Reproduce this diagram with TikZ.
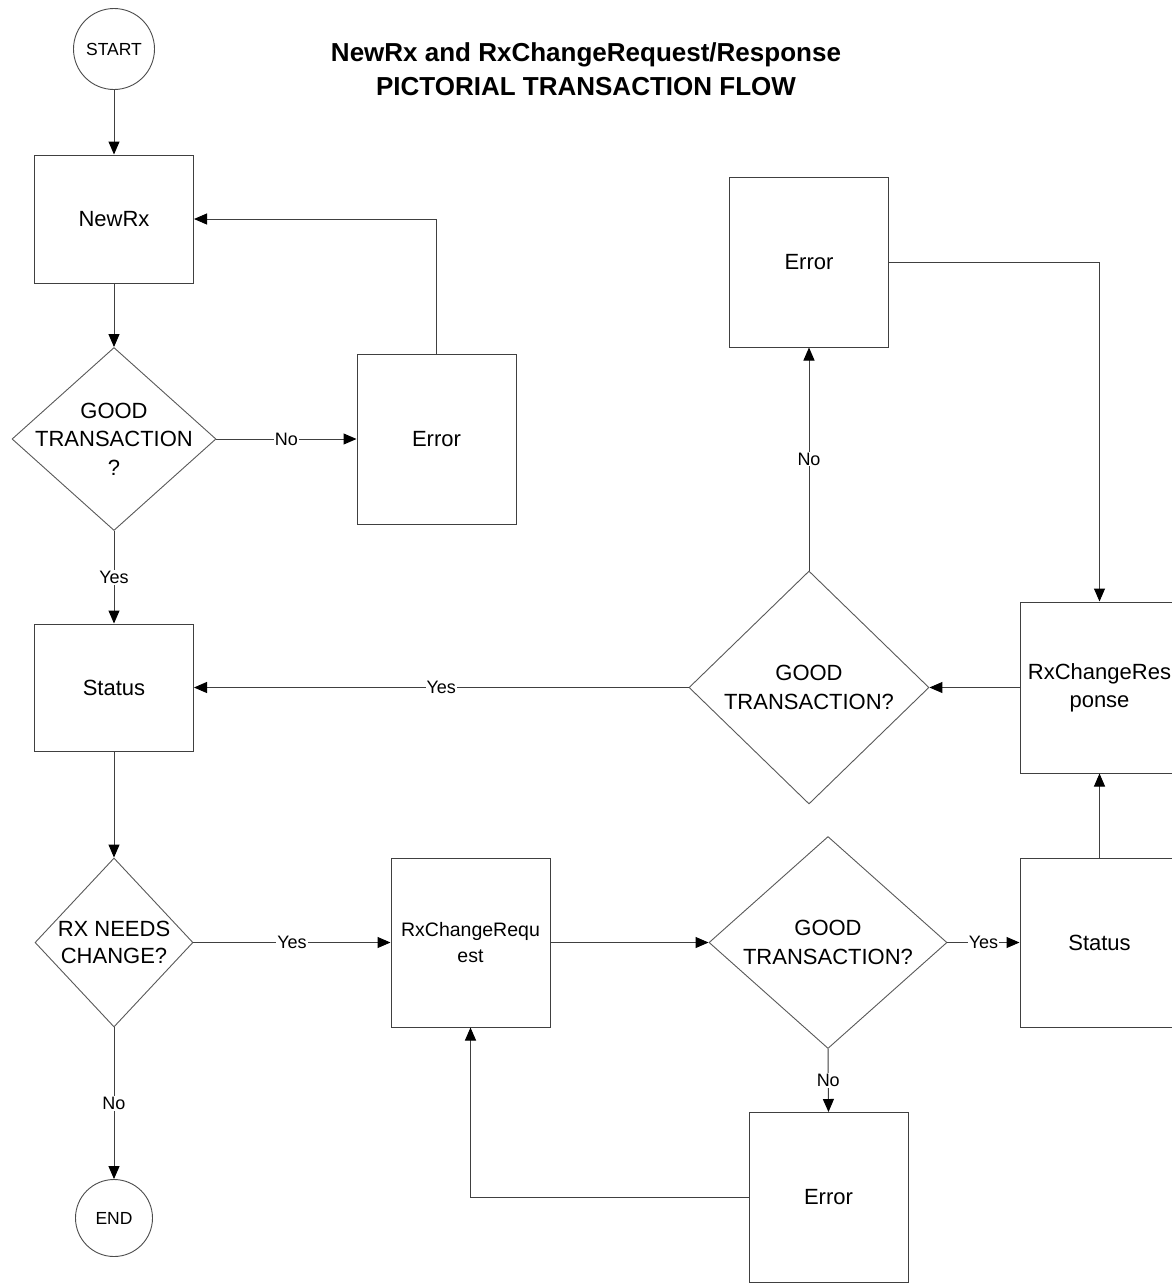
\documentclass[tikz,border=0pt]{standalone}
\usepackage{fontspec}
\setmainfont{Liberation Sans}
\usetikzlibrary{arrows.meta,shapes.geometric}
\begin{document}
\begin{tikzpicture}[x=1pt,y=-1pt,
  line/.style={draw=black!75, line width=1pt},
  arr/.style={line, -{Triangle[length=13pt,width=11pt,fill=black,color=black]}},
  box/.style={draw=black!75, line width=1pt, rectangle, minimum width=159pt, inner sep=0pt, align=center, font=\fontsize{22}{28}\selectfont, text=black},
  dia/.style={draw=black!65, line width=0.9pt, diamond, inner sep=0pt},
  dtext/.style={align=center, inner sep=0pt, font=\fontsize{22}{28.5}\selectfont, text=black},
  term/.style={draw=black!70, line width=0.9pt, circle, inner sep=0pt, font=\fontsize{17.5}{20}\selectfont, text=black},
  lab/.style={fill=white, inner sep=1pt, font=\fontsize{18}{20}\selectfont, text=black}]
\useasboundingbox (0,0) rectangle (1172,1283);
\fill[white] (0,0) rectangle (1172,1283);

% title
\node[align=center, font=\bfseries\fontsize{26}{34}\selectfont, text=black] (title) at (586,69) {NewRx and RxChangeRequest/Response\\PICTORIAL TRANSACTION FLOW};

% left column
\node[term, minimum size=81pt] (start) at (114,49) {START};
\node[box, minimum height=128pt] (newrx) at (114,219) {NewRx};
\node[dia, minimum width=204pt, minimum height=183pt] (d1) at (114,439) {};
\node[dtext] (d1t) at (d1) {GOOD\\TRANSACTION\\?};
\node[box, minimum width=159pt, minimum height=170pt] (err1) at (436.5,439) {Error};
\node[box, minimum height=127pt] (status1) at (114,687.5) {Status};
\node[dia, minimum width=158pt, minimum height=169pt] (d4) at (114,942.5) {};
\node[dtext, font=\fontsize{22}{27}\selectfont] (d4t) at (d4) {RX NEEDS\\CHANGE?};
\node[term, minimum size=77pt] (end) at (114,1218) {END};

% middle / right
\node[box, minimum height=169pt, font=\fontsize{19.5}{26}\selectfont] (req) at (470.5,942.5) {RxChangeRequ\\est};
\node[dia, minimum width=238pt, minimum height=212pt] (d3) at (828,942.5) {};
\node[dtext] (d3t) at (d3) {GOOD\\TRANSACTION?};
\node[box, minimum height=169pt] (status2) at (1099.5,942.5) {Status};
\node[box, minimum height=170pt] (err3) at (828.5,1197.5) {Error};
\node[box, minimum height=171pt] (resp) at (1099.5,687.5) {RxChangeRes\\ponse};
\node[dia, minimum width=240pt, minimum height=233pt] (d2) at (809,687.5) {};
\node[dtext] (d2t) at (d2) {GOOD\\TRANSACTION?};
\node[box, minimum height=170pt] (err2) at (809,262) {Error};

% connectors
\draw[arr] (start) -- (newrx);
\draw[arr] (newrx) -- (d1.north);
\draw[arr] (d1.east) -- node[lab] {No} (err1.west);
\draw[arr] (d1.south) -- node[lab] {Yes} (status1.north);
\draw[arr] (err1.north) |- (newrx.east);
\draw[arr] (status1.south) -- (d4.north);
\draw[arr] (d4.east) -- node[lab] {Yes} (req.west);
\draw[arr] (d4.south) -- node[lab] {No} (end.north);
\draw[arr] (req.east) -- (d3.west);
\draw[arr] (d3.east) -- node[lab] {Yes} (status2.west);
\draw[arr] (d3.south) -- node[lab] {No} (err3.north);
\draw[arr] (err3.west) -| (req.south);
\draw[arr] (status2.north) -- (resp.south);
\draw[arr] (resp.west) -- (d2.east);
\draw[arr] (d2.west) -- node[lab] {Yes} (status1.east);
\draw[arr] (d2.north) -- node[lab] {No} (err2.south);
\draw[arr] (err2.east) -| (resp.north);
\end{tikzpicture}
\end{document}
